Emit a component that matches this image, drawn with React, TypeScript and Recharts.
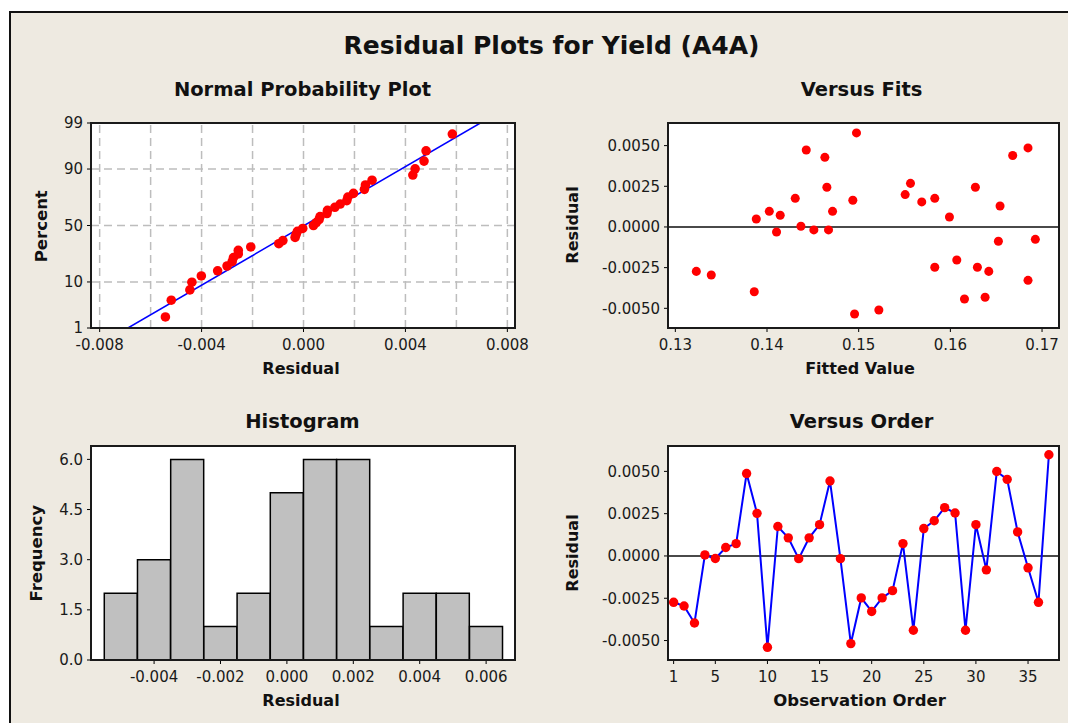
import React from 'react';
import {
  ComposedChart, ScatterChart, BarChart, LineChart, Scatter, Line, Bar,
  XAxis, YAxis, ZAxis, ReferenceLine,
} from 'recharts';

// residuals in observation order (Versus Order panel)
const ORDER_RESID = [
  -0.00274, -0.00296, -0.00396, 0.00006, -0.00015, 0.0005, 0.00073, 0.00487, 0.00252, -0.0054,
  0.00174, 0.00107, -0.00016, 0.00107, 0.00185, 0.00443, -0.00016, -0.00518, -0.00248, -0.00328,
  -0.00248, -0.00205, 0.00073, -0.00439, 0.00162, 0.00208, 0.00286, 0.00254, -0.00439, 0.00185,
  -0.00082, 0.00499, 0.00453, 0.00142, -0.0007, -0.00274, 0.00598,
];

// Versus Fits panel
const FITTED = [
  0.13229, 0.13392, 0.13861, 0.13883, 0.14025, 0.14104, 0.14144, 0.14308, 0.1437, 0.14428,
  0.14511, 0.14631, 0.14653, 0.14671, 0.14715, 0.14936, 0.14976, 0.14955, 0.1522, 0.15507,
  0.15565, 0.15688, 0.1583, 0.1583, 0.1599, 0.1607, 0.16154, 0.16273, 0.16295, 0.16379,
  0.16419, 0.16524, 0.16542, 0.1668, 0.16847, 0.16847, 0.16927,
];
const FIT_RESID = [
  -0.00273, -0.00295, -0.00398, 0.00049, 0.00096, -0.00031, 0.00072, 0.00176, 0.00004, 0.00473,
  -0.00018, 0.00428, 0.00244, -0.00018, 0.00096, 0.00164, 0.00578, -0.00535, -0.0051, 0.00199,
  0.00268, 0.00154, 0.00176, -0.00248, 0.00061, -0.00203, -0.00443, 0.00244, -0.00248, -0.00432,
  -0.00273, -0.00088, 0.00129, 0.00439, 0.00486, -0.00328, -0.00076,
];

// Normal probability plot
const NORM_RESID = [
  -0.00542, -0.00519, -0.00446, -0.00438, -0.00401, -0.00337, -0.003, -0.0028, -0.00275, -0.00256,
  -0.00256, -0.00207, -0.00097, -0.00081, -0.00033, -0.00029, -0.00024, -0.00003, 0.00039, 0.0005,
  0.00061, 0.00065, 0.00092, 0.00094, 0.00123, 0.00144, 0.0017, 0.00174, 0.00196, 0.00239,
  0.00243, 0.00269, 0.00429, 0.00438, 0.00473, 0.00481, 0.00584,
];
const NORM_PCT = [
  1.9, 4.5, 7.2, 9.9, 12.6, 15.2, 17.9, 20.6, 23.3, 25.9, 28.6, 31.3, 34.0, 36.6, 39.3, 42.0, 44.7,
  47.3, 50.0, 52.7, 55.3, 58.0, 60.7, 63.4, 66.0, 68.7, 71.4, 74.1, 76.7, 79.4, 82.1, 84.8, 87.4,
  90.1, 92.8, 95.5, 98.1,
];
const NORM_LINE_X = [-0.00689, 0.00694];
const NORM_LINE_PCT = [1, 99];
const PCT_TICKS = [1, 10, 50, 90, 99];
const PCT_GRID = [10, 50, 90];
const NORM_X_TICKS = [-0.008, -0.004, 0, 0.004, 0.008];
const NORM_X_GRID = [-0.008, -0.006, -0.004, -0.002, 0, 0.002, 0.004, 0.006, 0.008];

// Histogram
const BIN_MID = [-0.005, -0.004, -0.003, -0.002, -0.001, 0, 0.001, 0.002, 0.003, 0.004, 0.005, 0.006];
const BIN_COUNT = [2, 3, 6, 1, 2, 5, 6, 6, 1, 2, 2, 1];
const HIST_X_TICKS = [-0.004, -0.002, 0, 0.002, 0.004, 0.006];
const HIST_Y_TICKS = [0, 1.5, 3, 4.5, 6];

const RESID_TICKS = [-0.005, -0.0025, 0, 0.0025, 0.005];
const FIT_X_TICKS = [0.13, 0.14, 0.15, 0.16, 0.17];
const ORDER_X_TICKS = [1, 5, 10, 15, 20, 25, 30, 35];

const FONT = '"DejaVu Sans", Verdana, sans-serif';
const BG = '#eeeae1';
const RED = '#ff0000';
const BLUE = '#0000ff';

// inverse normal cdf (Acklam) for the probability scale
function probit(p: number): number {
  const a = [-39.69683028665376, 220.9460984245205, -275.9285104469687, 138.357751867269, -30.66479806614716, 2.506628277459239];
  const b = [-54.47609879822406, 161.5858368580409, -155.6989798598866, 66.80131188771972, -13.28068155288572];
  const c = [-0.007784894002430293, -0.3223964580411365, -2.400758277161838, -2.549671010115281, 4.374664141464968, 2.938163982698783];
  const d = [0.007784695709041462, 0.3224671290700398, 2.445134137142996, 3.754408661907416];
  const lo = 0.02425;
  if (p < lo) {
    const q = Math.sqrt(-2 * Math.log(p));
    return (((((c[0] * q + c[1]) * q + c[2]) * q + c[3]) * q + c[4]) * q + c[5]) / ((((d[0] * q + d[1]) * q + d[2]) * q + d[3]) * q + 1);
  }
  if (p <= 1 - lo) {
    const q = p - 0.5;
    const r = q * q;
    return ((((((a[0] * r + a[1]) * r + a[2]) * r + a[3]) * r + a[4]) * r + a[5]) * q) / (((((b[0] * r + b[1]) * r + b[2]) * r + b[3]) * r + b[4]) * r + 1);
  }
  const q = Math.sqrt(-2 * Math.log(1 - p));
  return -(((((c[0] * q + c[1]) * q + c[2]) * q + c[3]) * q + c[4]) * q + c[5]) / ((((d[0] * q + d[1]) * q + d[2]) * q + d[3]) * q + 1);
}

const normData = NORM_RESID.map((r, i) => ({ x: r, y: probit(NORM_PCT[i] / 100) }));
const normLine = NORM_LINE_X.map((x, i) => ({ x, y: probit(NORM_LINE_PCT[i] / 100) }));
const pctTickZ = PCT_TICKS.map(p => probit(p / 100));
const fitsData = FITTED.map((f, i) => ({ x: f, y: FIT_RESID[i] }));
const histData = BIN_MID.map((m, i) => ({ x: m, count: BIN_COUNT[i] }));
const orderData = ORDER_RESID.map((r, i) => ({ x: i + 1, y: r }));

const tickStyle = { fontFamily: FONT, fontSize: 15, fill: '#1a1a1a' };
const margin = { top: 10, right: 30, bottom: 0, left: 0 };
const YW = 90;
const XH = 40;

type Rect = { L: number; T: number; R: number; B: number };
const NPP: Rect = { L: 91, T: 123, R: 515, B: 328 };
const FITS: Rect = { L: 668, T: 123, R: 1059, B: 328 };
const HIST: Rect = { L: 91, T: 446, R: 515, B: 660 };
const ORDER: Rect = { L: 668, T: 446, R: 1059, B: 660 };

const chartBox = (r: Rect) => ({
  left: r.L - YW - margin.left,
  top: r.T - margin.top,
  width: r.R - r.L + YW + margin.left + margin.right,
  height: r.B - r.T + margin.top + margin.bottom + XH,
});

const Txt = ({ x, y, size, rotate, children }: { x: number; y: number; size: number; rotate?: boolean; children: React.ReactNode }) => (
  <div
    style={{
      position: 'absolute', left: x - 200, top: y - 0.48 * size, width: 400, height: size,
      lineHeight: `${size}px`, fontSize: size, fontFamily: FONT, fontWeight: 'bold', color: '#111',
      textAlign: 'center', whiteSpace: 'nowrap', transform: rotate ? 'rotate(-90deg)' : undefined,
    }}
  >
    {children}
  </div>
);

const Panel = ({ rect, children }: { rect: Rect; children: React.ReactNode }) => {
  const box = chartBox(rect);
  return (
    <>
      <div style={{ position: 'absolute', left: rect.L, top: rect.T, width: rect.R - rect.L, height: rect.B - rect.T, background: '#fff' }} />
      <div style={{ position: 'absolute', left: box.left, top: box.top }}>{children}</div>
      <div style={{ position: 'absolute', left: rect.L - 1, top: rect.T - 1, width: rect.R - rect.L + 2, height: rect.B - rect.T + 2, border: '2px solid #1a1a1a', boxSizing: 'border-box', pointerEvents: 'none' }} />
    </>
  );
};

const xProps = { type: 'number' as const, dataKey: 'x', allowDataOverflow: true, axisLine: false, tickLine: { stroke: '#000' }, tickSize: 4, tickMargin: 7, height: XH, tick: tickStyle, interval: 0 as const };
const yProps = { type: 'number' as const, allowDataOverflow: true, axisLine: false, tickLine: { stroke: '#000' }, tickSize: 4, tickMargin: 4, width: YW, tick: tickStyle, interval: 0 as const };

export default function App() {
  const npp = chartBox(NPP);
  const fits = chartBox(FITS);
  const hist = chartBox(HIST);
  const order = chartBox(ORDER);
  return (
    <div style={{ position: 'absolute', left: 0, top: 0, width: 1068, height: 723, background: '#fff', overflow: 'hidden' }}>
      <div style={{ position: 'absolute', left: 9, top: 11, width: 1100, height: 760, background: BG, borderLeft: '2px solid #111', borderTop: '2px solid #111' }} />

      <Txt x={543.5} y={45} size={25}>Residual Plots for Yield (A4A)</Txt>
      <Txt x={302.5} y={89.5} size={19.5}>Normal Probability Plot</Txt>
      <Txt x={861.5} y={89.5} size={19.5}>Versus Fits</Txt>
      <Txt x={302.5} y={421.5} size={19.5}>Histogram</Txt>
      <Txt x={861.5} y={421.5} size={19.5}>Versus Order</Txt>

      <Panel rect={NPP}>
        <ComposedChart width={npp.width} height={npp.height} margin={margin}>
          <XAxis {...xProps} domain={[-0.00834, 0.0083]} ticks={NORM_X_TICKS} tickFormatter={(v: number) => v.toFixed(3)} />
          <YAxis {...yProps} dataKey="y" domain={[pctTickZ[0], pctTickZ[4]]} ticks={pctTickZ}
            tickFormatter={(v: number) => String(PCT_TICKS[pctTickZ.findIndex(t => Math.abs(t - v) < 1e-6)] ?? '')} />
          <ZAxis range={[72, 72]} />
          {NORM_X_GRID.map(v => (
            <ReferenceLine key={`gx${v}`} x={v} stroke="#bdbdbd" strokeWidth={1.5} strokeDasharray="8 5" />
          ))}
          {PCT_GRID.map(p => (
            <ReferenceLine key={`gy${p}`} y={probit(p / 100)} stroke="#bdbdbd" strokeWidth={1.5} strokeDasharray="8 5" />
          ))}
          <Line data={normLine} dataKey="y" stroke={BLUE} strokeWidth={1.5} dot={false} isAnimationActive={false} />
          <Scatter data={normData} fill={RED} isAnimationActive={false} />
        </ComposedChart>
      </Panel>

      <Panel rect={FITS}>
        <ScatterChart width={fits.width} height={fits.height} margin={margin}>
          <XAxis {...xProps} domain={[0.1292, 0.17185]} ticks={FIT_X_TICKS} tickFormatter={(v: number) => v.toFixed(2)} />
          <YAxis {...yProps} dataKey="y" domain={[-0.00621, 0.00639]} ticks={RESID_TICKS} tickFormatter={(v: number) => v.toFixed(4)} />
          <ZAxis range={[72, 72]} />
          <ReferenceLine y={0} stroke="#4a4a4a" strokeWidth={2} />
          <Scatter data={fitsData} fill={RED} isAnimationActive={false} />
        </ScatterChart>
      </Panel>

      <Panel rect={HIST}>
        <BarChart width={hist.width} height={hist.height} margin={margin} data={histData} barCategoryGap={0} barGap={0}>
          <XAxis {...xProps} domain={[-0.0059, 0.00687]} ticks={HIST_X_TICKS} tickFormatter={(v: number) => v.toFixed(3)} />
          <YAxis {...yProps} domain={[0, 6.4]} ticks={HIST_Y_TICKS} tickFormatter={(v: number) => v.toFixed(1)} />
          <Bar dataKey="count" fill="#c0c0c0" stroke="#000" strokeWidth={1.5} isAnimationActive={false} />
        </BarChart>
      </Panel>

      <Panel rect={ORDER}>
        <LineChart width={order.width} height={order.height} margin={margin} data={orderData}>
          <XAxis {...xProps} domain={[0.46, 37.97]} ticks={ORDER_X_TICKS} tickFormatter={(v: number) => String(v)} />
          <YAxis {...yProps} dataKey="y" domain={[-0.00615, 0.0065]} ticks={RESID_TICKS} tickFormatter={(v: number) => v.toFixed(4)} />
          <ReferenceLine y={0} stroke="#4a4a4a" strokeWidth={2} />
          <Line dataKey="y" stroke={BLUE} strokeWidth={2}
            dot={{ r: 4.7, fill: RED, stroke: RED, strokeWidth: 0 }} isAnimationActive={false} />
        </LineChart>
      </Panel>

      <Txt x={301} y={369} size={16}>Residual</Txt>
      <Txt x={860} y={369} size={16}>Fitted Value</Txt>
      <Txt x={301} y={700.5} size={16}>Residual</Txt>
      <Txt x={859.6} y={701} size={16.5}>Observation Order</Txt>
      <Txt x={41.7} y={225.5} size={16.5} rotate>Percent</Txt>
      <Txt x={573} y={224.5} size={16} rotate>Residual</Txt>
      <Txt x={36.7} y={553} size={16.5} rotate>Frequency</Txt>
      <Txt x={573} y={553} size={16} rotate>Residual</Txt>
    </div>
  );
}
